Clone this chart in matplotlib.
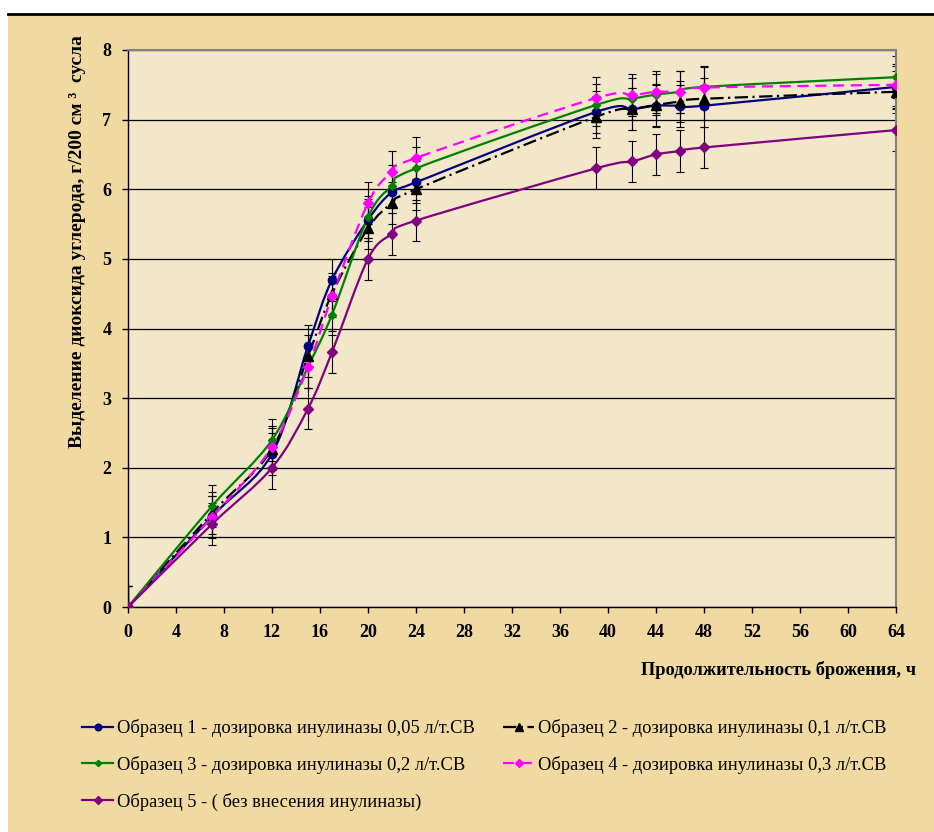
import numpy as np
import matplotlib
matplotlib.use("Agg")
import matplotlib.pyplot as plt
from matplotlib.path import Path
from matplotlib.patches import PathPatch, Rectangle
from matplotlib.lines import Line2D

# fermentation time, h
hours = [0, 7, 12, 15, 17, 20, 22, 24, 39, 42, 44, 46, 48, 64]

# CO2 release, g / 200 cm3 wort
sample1 = [0, 1.30, 2.20, 3.75, 4.70, 5.56, 5.96, 6.10, 7.11, 7.15, 7.20, 7.20, 7.20, 7.47]
sample2 = [0, 1.35, 2.27, 3.60, 4.50, 5.44, 5.80, 6.00, 7.04, 7.15, 7.21, 7.26, 7.30, 7.40]
sample3 = [0, 1.45, 2.40, 3.45, 4.20, 5.60, 6.05, 6.30, 7.21, 7.30, 7.36, 7.40, 7.47, 7.61]
sample4 = [0, 1.29, 2.30, 3.45, 4.46, 5.80, 6.25, 6.45, 7.31, 7.35, 7.40, 7.40, 7.46, 7.50]
sample5 = [0, 1.19, 2.00, 2.85, 3.66, 5.00, 5.36, 5.55, 6.30, 6.40, 6.50, 6.55, 6.60, 6.85]
error = 0.3

labels = [
    "Образец 1 - дозировка инулиназы 0,05 л/т.СВ",
    "Образец 2 - дозировка инулиназы 0,1 л/т.СВ",
    "Образец 3 - дозировка инулиназы 0,2 л/т.СВ",
    "Образец 4 - дозировка инулиназы 0,3 л/т.СВ",
    "Образец 5 - ( без внесения инулиназы)",
]

STYLES = [
    dict(color="#000080", marker="o", ms=6, ls="-", dashes=None),
    dict(color="black", marker="^", ms=7, ls="-.", dashes=(6, 2, 1, 2)),
    dict(color="#008000", marker="D", ms=4, ls="-", dashes=None),
    dict(color="#FF00FF", marker="D", ms=5.5, ls="--", dashes=(5, 3)),
    dict(color="#800080", marker="D", ms=5.5, ls="-", dashes=None),
]

OUTER = "#F0DAA2"
INNER = "#F3E7C9"


def smooth_path(x, y):
    """Excel-like smoothed line: cubic Bezier through all points."""
    pts = np.column_stack([x, y]).astype(float)
    verts = [pts[0]]
    codes = [Path.MOVETO]
    for i in range(len(pts) - 1):
        p0 = pts[i - 1] if i > 0 else pts[i]
        p1 = pts[i]
        p2 = pts[i + 1]
        p3 = pts[i + 2] if i + 2 < len(pts) else p2
        verts += [p1 + (p2 - p0) / 6, p2 - (p3 - p1) / 6, p2]
        codes += [Path.CURVE4] * 3
    return Path(verts, codes)


plt.rcParams["font.family"] = ["Liberation Serif", "DejaVu Serif"]

fig = plt.figure(figsize=(9.34, 8.32), dpi=100)
fig.patch.set_facecolor("white")
fig.patches.append(Rectangle((8 / 934, 0), 1, 1 - 15 / 832, transform=fig.transFigure,
                             facecolor=OUTER, edgecolor="none", zorder=-10))
fig.add_artist(Line2D([8 / 934, 1], [1 - 14 / 832, 1 - 14 / 832], transform=fig.transFigure,
                      color="black", lw=2))

ax = fig.add_axes([128 / 934, 1 - 607 / 832, 768 / 934, 557 / 832])
ax.set_facecolor(INNER)

series = [sample1, sample2, sample3, sample4, sample5]
handles = []
for vals, st in zip(series, STYLES):
    ax.errorbar(hours, vals, yerr=error, fmt="none", ecolor="black",
                elinewidth=0.8, capsize=3, capthick=0.8, zorder=2)
    patch = PathPatch(smooth_path(hours, vals), fill=False, edgecolor=st["color"],
                      lw=1.6, zorder=3)
    if st["dashes"]:
        patch.set_linestyle((0, st["dashes"]))
    ax.add_patch(patch)
    ax.plot(hours, vals, ls="none", marker=st["marker"], ms=st["ms"],
            color=st["color"], zorder=4)
    handles.append(Line2D([], [], color=st["color"], lw=1.6, ls=st["ls"],
                          marker=st["marker"], ms=st["ms"] * 0.8))
handles[1].set_dashes(STYLES[1]["dashes"])
handles[3].set_dashes(STYLES[3]["dashes"])

ax.set_xlim(0, 64)
ax.set_ylim(0, 8)
ax.set_xticks(range(0, 65, 4))
ax.set_yticks(range(0, 9))
ax.yaxis.grid(True, color="black", lw=0.9)
ax.set_axisbelow(True)
for side in ["top", "right"]:
    ax.spines[side].set_color("#808080")
    ax.spines[side].set_linewidth(1.5)
for side in ["left", "bottom"]:
    ax.spines[side].set_color("black")
    ax.spines[side].set_linewidth(1.0)
ax.tick_params(direction="out", length=4, width=1, pad=8, labelsize=13)
for lab in ax.get_xticklabels() + ax.get_yticklabels():
    lab.set_fontweight("bold")

fig.text(916 / 934, 1 - 670 / 832, "Продолжительность брожения, ч",
         ha="right", va="center", fontsize=13.2, fontweight="bold")
fig.text(78 / 934, 1 - 242 / 832, "Выделение диоксида углерода, г/200 см ³  сусла",
         rotation=90, ha="center", va="center", fontsize=14, fontweight="bold")

leg_kw = dict(frameon=False, fontsize=13.3, handlelength=1.7, handletextpad=0.2,
              labelspacing=1.02, borderpad=0, borderaxespad=0)
leg1 = fig.legend([handles[0], handles[2], handles[4]], [labels[0], labels[2], labels[4]],
                  loc="upper left", bbox_to_anchor=(82 / 934, 1 - 719 / 832), **leg_kw)
leg2 = fig.legend([handles[1], handles[3]], [labels[1], labels[3]],
                  loc="upper left", bbox_to_anchor=(503 / 934, 1 - 719 / 832), **leg_kw)

fig.savefig("out.png", dpi=100, facecolor=fig.get_facecolor())
